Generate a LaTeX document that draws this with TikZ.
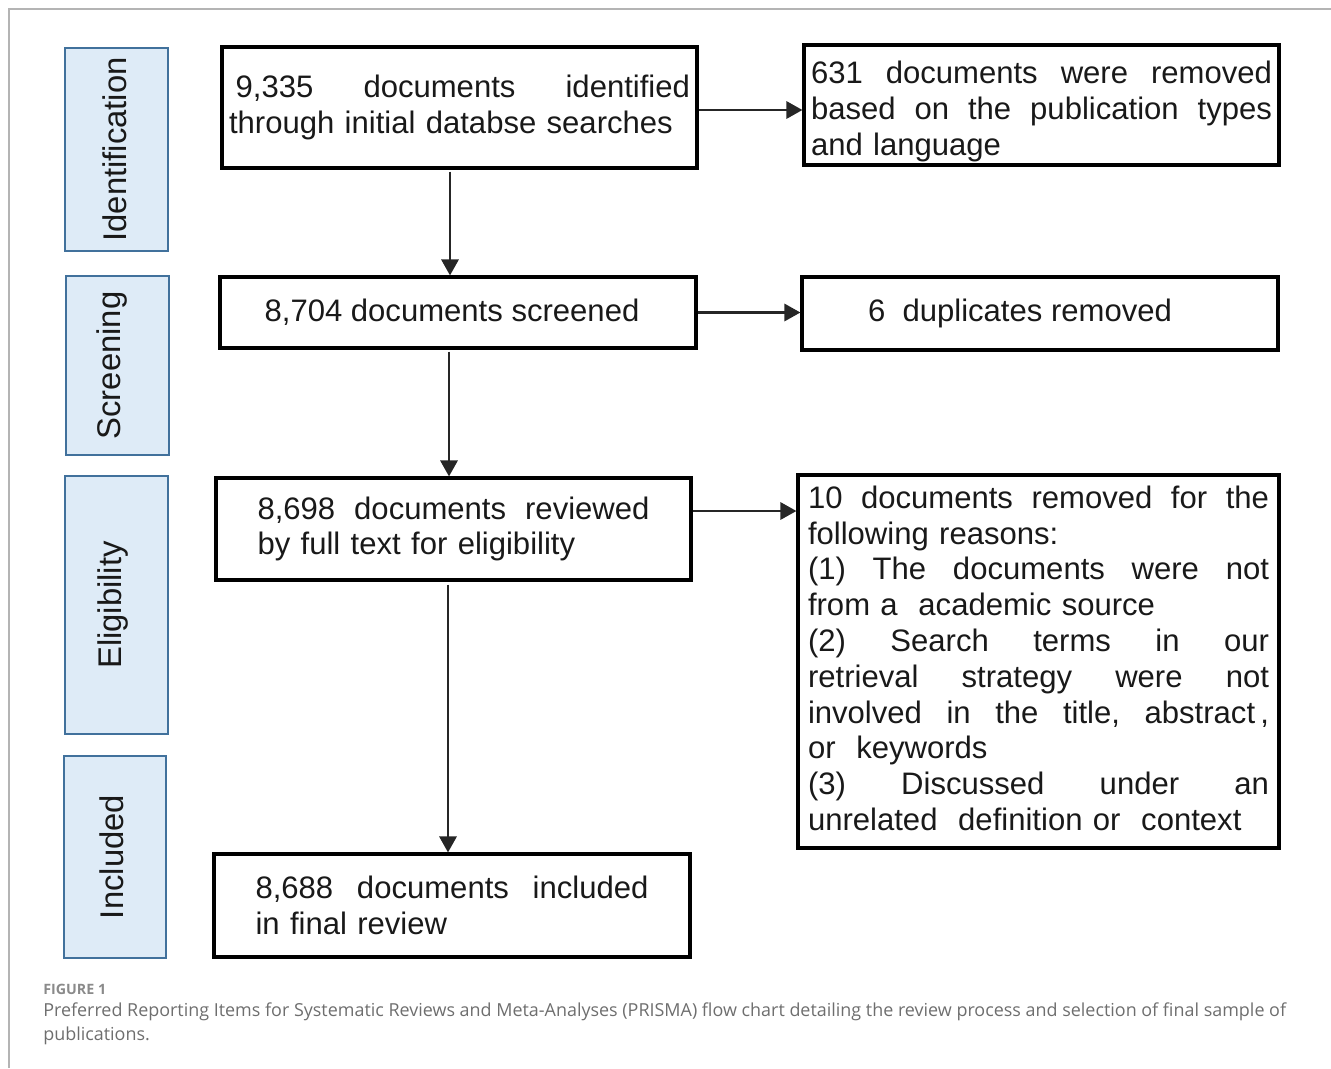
\documentclass[tikz,border=0pt]{standalone}
\usepackage{fontspec}
\setmainfont{Liberation Sans}
\newfontfamily\capfont{Open Sans}
\usetikzlibrary{arrows.meta,calc}
\definecolor{sidefill}{HTML}{DEEBF7}
\definecolor{sidedraw}{HTML}{41719C}
\definecolor{arrcol}{HTML}{262626}
\definecolor{capgray}{HTML}{6E6E6E}
\definecolor{figgray}{HTML}{8A8A8A}
\definecolor{framegray}{HTML}{B4B4B4}
% justified line of given width; words separated by \gp
\newcommand{\jl}[2]{\leavevmode\hbox to #1{#2}}
\newcommand{\gp}{\hfill\ }
\begin{document}
\begin{tikzpicture}[x=0.75pt,y=-0.75pt,
 sidebox/.style={draw=sidedraw,fill=sidefill,line width=2.2pt,inner sep=0pt},
 sidetxt/.style={rotate=90,font=\fontsize{24.6}{26}\selectfont,inner sep=0pt,text=black!90},
 mainbox/.style={draw=black,line width=2.3pt,inner sep=0pt,font=\fontsize{23.3}{26.85}\selectfont,text=black!90},
 arr/.style={draw=arrcol,line width=2.2pt,-{Triangle[length=12pt,width=12.75pt]}},
 captxt/.style={anchor=west,inner sep=0pt,font=\capfont\fontsize{13.45}{15}\selectfont,text=capgray}
]
\useasboundingbox (0,0) rectangle (1331,1068);
\draw[framegray,line width=1.4pt] (9,1068) -- (9,9) -- (1331,9);

% side boxes
\node[sidebox,minimum width=77.25pt,minimum height=152.25pt] (s1) at (116.5,149.5) {};
\node[sidetxt] (s1t) at ($(s1.center)+(-2,0)$) {Identification};
\node[sidebox,minimum width=77.25pt,minimum height=134.25pt] (s2) at (117.5,365.5) {};
\node[sidetxt] (s2t) at ($(s2.center)+(-5,0)$) {Screening};
\node[sidebox,minimum width=77.25pt,minimum height=193.5pt] (s3) at (116.5,605) {};
\node[sidetxt] (s3t) at ($(s3.center)+(-3,0)$) {Eligibility};
\node[sidebox,minimum width=76.5pt,minimum height=151.5pt] (s4) at (115,857) {};
\node[sidetxt] (s4t) at ($(s4.center)+(-3,0)$) {Included};

% main column
\node[mainbox,minimum width=356.25pt,minimum height=90.75pt,text width=345.75pt,align=left] (b1) at (459.5,107.5)
 {\jl{345.75pt}{\hspace{5pt}9,335\gp documents\gp identified}\\through initial databse searches};
\node[mainbox,minimum width=357pt,minimum height=53.25pt] (b2) at (458,312.5)
 {8,704 documents screened\hspace*{9pt}};
\node[mainbox,minimum width=356.25pt,minimum height=76.5pt,text width=294pt,align=left] (b3) at (453.5,529)
 {\jl{294pt}{8,698\gp documents\gp reviewed}\\by full text for eligibility};
\node[mainbox,minimum width=357pt,minimum height=77.25pt,text width=294.75pt,align=left] (b4) at (452,905.5)
 {\jl{294.75pt}{8,688\gp documents\gp included}\\in final review};

% right column
\node[mainbox,minimum width=356.25pt,minimum height=90pt,text width=345.75pt,align=left] (r1) at (1041.5,105)
 {\jl{345.75pt}{\rule{0pt}{27pt}631\gp documents\gp were\gp removed}\\\jl{345.75pt}{based\gp on\gp the\gp publication\gp types}\\and language};
\node[mainbox,minimum width=357pt,minimum height=54.75pt] (r2) at (1040,313.5)
 {6\ \ duplicates removed\hspace*{30pt}};
\node[mainbox,minimum width=360.75pt,minimum height=279.75pt,text width=345.75pt,align=left] (r3) at (1038.5,661.5)
 {\jl{345.75pt}{10\gp documents\gp removed\gp for\gp the}\\
  following reasons:\\
  \jl{345.75pt}{(1)\gp The\gp documents\gp were\gp not}\\
  from a\ \ academic source\\
  \jl{345.75pt}{(2)\gp Search\gp terms\gp in\gp our}\\
  \jl{345.75pt}{retrieval\gp strategy\gp were\gp not}\\
  \jl{345.75pt}{involved\gp in\gp the\gp title,\gp abstract\,,}\\
  or\ \ keywords\\
  \jl{345.75pt}{(3)\gp Discussed\gp under\gp an}\\
  unrelated\ \ definition or\ \ context\rule[-5pt]{0pt}{0pt}};

% connector end points
\coordinate (a1) at ($(b1.east)+(0,2.5)$);
\coordinate (a2) at ($(b1.south)+(-9.5,2)$);
\coordinate (a3) at (b2.east);
\coordinate (a4) at ($(b2.south)+(-9,2)$);
\coordinate (a5) at ($(b3.east)+(0,-18)$);
\coordinate (a6) at ($(b3.south)+(-5.5,3)$);

% connectors
\draw[arr] (a1) -- (a1 -| r1.west);
\draw[arr] (a2) -- (a2 |- b2.north);
\draw[arr] (a3) -- (a3 -| r2.west);
\draw[arr] (a4) -- (a4 |- b3.north);
\draw[arr] (a5) -- (a5 -| r3.west);
\draw[arr] (a6) -- (a6 |- b4.north);

% caption
\node[captxt,font=\capfont\fontsize{10.7}{12}\selectfont\bfseries,text=figgray] (fig) at (43,989) {FIGURE 1};
\node[captxt] (cap1) at (43,1012) {Preferred Reporting Items for Systematic Reviews and Meta-Analyses (PRISMA) flow chart detailing the review process and selection of final sample of};
\node[captxt] (cap2) at (43,1036) {publications.};
\end{tikzpicture}
\end{document}
